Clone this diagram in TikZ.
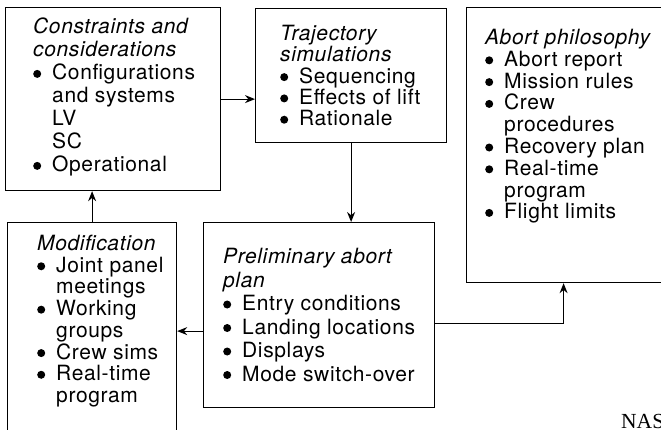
\documentclass[tikz,border=0pt]{standalone}
\usepackage{fontspec}
\setmainfont{TeX Gyre Heros}[LetterSpace=3]
\newfontfamily\creditfont{Liberation Serif}
\usetikzlibrary{arrows.meta}

% bullet and hanging indent for the lists
\newcommand{\bul}{\makebox[19pt][l]{\tikz[baseline=-6pt]\fill (0,0) circle (4pt);}}
\newcommand{\ind}{\hspace*{19pt}}

\begin{document}
\begin{tikzpicture}[x=1pt, y=-1pt,
  box/.style={draw, line width=1.2pt, anchor=north west, inner sep=0pt},
  txt/.style={anchor=north west, inner sep=0pt, align=left,
              font=\fontsize{21}{#1}\selectfont},
  arr/.style={line width=1.2pt, -{Stealth[length=10pt, width=8pt]}}
]
  \useasboundingbox (0,0) rectangle (661,429);

  % ── boxes ──
  \node[box, minimum width=215pt, minimum height=183pt] (cons)   at (5,7)     {};
  \node[box, minimum width=191pt, minimum height=134pt] (traj)   at (255,8)   {};
  \node[box, minimum width=220pt, minimum height=275pt] (abort)  at (466,7)   {};
  \node[box, minimum width=169pt, minimum height=230pt] (modif)  at (7,222)   {};
  \node[box, minimum width=231pt, minimum height=185pt] (prelim) at (203,222) {};

  % ── texts ──
  \node[txt=23] (consText) at (33,18)
    {\textit{Constraints and}\\ \textit{considerations}\\
     \bul Configurations\\ \ind and systems\\ \ind LV\\ \ind SC\\
     \bul Operational};
  \node[txt=21.3] (trajText) at (280,25)
    {\textit{Trajectory}\\ \textit{simulations}\\
     \bul Sequencing\\ \bul Effects of lift\\ \bul Rationale};
  \node[txt=21.8] (abortText) at (485,29)
    {\textit{Abort philosophy}\\
     \bul Abort report\\ \bul Mission rules\\ \bul Crew\\ \ind procedures\\
     \bul Recovery plan\\ \bul Real-time\\ \ind program\\ \bul Flight limits};
  \node[txt=21.7] (modifText) at (37,235)
    {\textit{Modification}\\
     \bul Joint panel\\ \ind meetings\\ \bul Working\\ \ind groups\\
     \bul Crew sims\\ \bul Real-time\\ \ind program};
  \node[txt=23.5] (prelimText) at (223,248)
    {\textit{Preliminary abort}\\ \textit{plan}\\
     \bul Entry conditions\\ \bul Landing locations\\ \bul Displays\\
     \bul Mode switch-over};

  \node[anchor=base west, inner sep=0pt,
        font=\creditfont\fontsize{21.5}{22}\selectfont] (credit) at (621,428) {NAS};

  % ── connectors ──
  \draw[arr] (cons.east) -- (cons.east -| traj.west);
  \draw[arr] (traj.south) -- (traj.south |- prelim.north);
  \draw[arr] ([yshift=-16pt]prelim.west) -- ([yshift=-16pt]prelim.west -| modif.east);
  \draw[arr] ([yshift=-8pt]prelim.east) -| ([xshift=-13pt]abort.south);
  \draw[arr] (modif.north) -- (modif.north |- cons.south);
\end{tikzpicture}
\end{document}
